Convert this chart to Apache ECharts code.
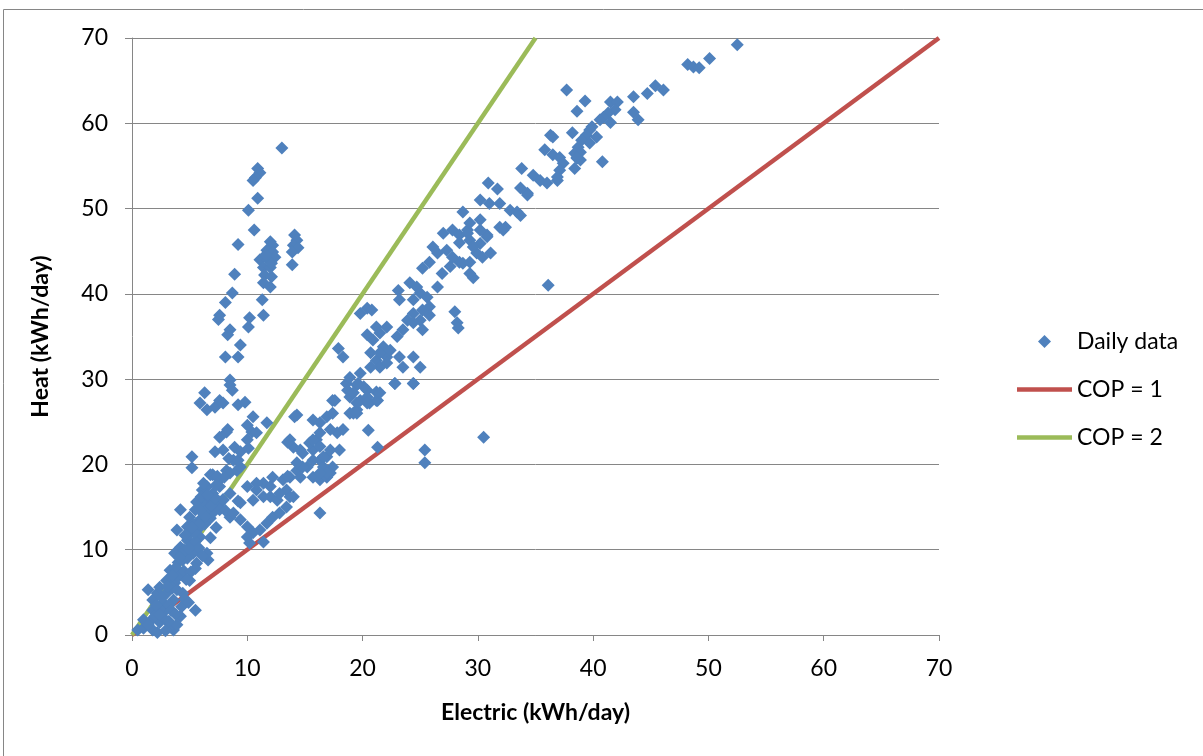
<!DOCTYPE html>
<html>
<head>
<meta charset="utf-8">
<script src="https://cdn.jsdelivr.net/npm/echarts@6/dist/echarts.min.js"></script>
<style>
html,body{margin:0;padding:0;background:#fff;}
#chart{width:1203px;height:756px;}
</style>
</head>
<body>
<div id="chart"></div>
<script>
// Axis ticks
const xTicks = [0, 10, 20, 30, 40, 50, 60, 70];
const yTicks = [0, 10, 20, 30, 40, 50, 60, 70];

// Daily data [electric, heat], grouped by region
const lowBranch = [
[0.5,0.6],[1,0.8],[1.8,0.6],[3.6,0.6],[3.3,0.9],[1,1.8],[1.7,1.8],[2.4,1.5],[1.8,2.9],[2.7,2.6],[5.5,2.9],[1.8,4.1],[2.7,3.8],[3.6,4.1],[4.3,3.3],[1.4,5.3],[2.2,4.9],[3,4.9],[4.4,4.9],[2.4,5.6],[3,6.4],[3.7,6.1],[5,6.4],[3.3,7.6],[4.2,7.3],[3.7,9.6],[4.4,8.8],[5.6,8.4],[6.6,8.8],[4.2,10.3],[5.3,9.6],[6.5,9.6],[4.8,11.1],[5.9,11.5],[3.9,12.3],[4.8,12.7],[5.6,12.3],[5,13.8],[5.9,13.5],[6.8,13.7],[4.2,14.7],[5.5,14.7],[6.2,15.5],[7.5,15],[7.9,15.8],[5.6,15.6],[7,15.6],[7.6,15.6],[7.9,15.9],[6.2,14.3],[7,14.3],[7.6,14.7],[6.5,17.4],[6.1,17],[7,16.6],[6.2,17.8],[7.6,17.4],[7,18.8],[7.6,18.2],[6.8,18.8],[7.4,18.6],[5.2,19.6],[5.2,20.9],[8.2,19.3],[8.5,19],[9.1,19.3],[8.8,20.5],[9.4,19.7],[9.2,20.5],[7.2,21.5],[7.9,21.7],[8.9,22],[9.4,21.5],[10.1,21.9],[7.6,23.2],[8.2,23.8],[8.3,24.1],[10,22.9],[10,24.6],[10.4,23.8],[10.8,23.7],[10.5,25.6],[11.7,24.9],[6.3,28.4],[5.9,27.2],[6.5,26.4],[7.2,26.7],[7.6,27.5],[7.9,27.2],[8.5,29.3],[8.7,28.7],[9.2,27],[9.8,27.3],[8.5,29.9],[8.5,16.6],[8.5,13.8],[9.2,15.7],
[2,2.2],[2.5,3],[3.2,3.5],[3.5,5.5],[4,6.8],[4.5,7.5],[4,8.5],[4.8,9],[5.2,10.5],[4.5,10],[5,11.8],[5.5,11],[6,12.8],[5.3,13],[6.3,13],[6.5,14.8],[6,16.2],[6.8,16],[5.8,10.2],[4.2,2.2],[2.9,1.8],[3.9,1.2],[2.2,0.3],[4.6,4.2],[5.1,7.4],[3.4,2.9],
[3.8,7.9],[4.3,9.4],[4.9,10.2],[5.4,12],[5.8,13],[6.4,13.9],[6.9,15.2],[7.2,16.1],[7.3,17.6],[8,18.5],[8.4,20.7],[6.6,16.4],[5.9,14.6],[5.2,12.6],[4.6,11.7],[4.1,9.1],[3.5,7],[3.1,5.7],[2.6,4.4],[2.1,3.5],[3.9,5.3],[4.7,6.5],[5.5,7.8],[6.1,9.3],[6.8,11.4],[7.3,12.6],[8.1,14.6],[2.9,0.5],[3.8,2.4],[4.9,3.8],[1.4,1.2],[2.4,2.4],[3.2,1.6]
];
const steepBranch = [
[13,57.1],[10.9,54.7],[11.1,54.2],[10.7,53.6],[10.5,53.3],[10.9,51.2],[10.1,49.8],[10.6,47.5],[9.2,45.8],[14.1,46.9],[14.3,46.3],[14,45.7],[14.4,45.4],[13.9,44.9],[13.9,43.4],[12,46.1],[12.2,45.7],[11.7,45.1],[12.2,44.9],[11.1,44],[11.8,44],[12.4,44.3],[11.4,43.1],[12,43.1],[11.5,42.2],[12.1,42],[11.4,41.3],[12,40.8],[8.9,42.3],[8.7,40.1],[8.1,39],[7.6,37.5],[7.5,37],[8.5,35.8],[8.3,35.2],[11.3,39.3],[11.4,37.5],[10.2,37.2],[10.1,36.1],[9.4,34],[9.2,32.6],[8.1,32.6],[11.6,44.6],[12.1,43.6]
];
const lowerMid = [
[10,17.4],[10.8,17],[11.4,17.8],[12.2,18.5],[13.1,18.2],[13.7,18.5],[14,16.2],[8.8,14.3],[9.4,13.5],[10,12.7],[10.5,12],[11.1,12.3],[11.7,13.1],[12.2,13.8],[12.8,14.3],[13.4,15],[10,11.5],[10.2,10.8],[11.4,10.9],[12,16.2],[12.6,15.8],[13.4,17],[12.8,16.6],[13.7,16.2],[11.4,16.2],[10.5,15.8],[9.4,15.5],[10.8,17.8],[12,17.4],[16.3,14.3]
];
const mainBand = [
[14.3,19.3],[15.2,19.7],[15.7,18.5],[16.3,18.2],[16.9,18.5],[17.4,19.7],[14,22],[14.6,21.7],[13.7,22.9],[15.7,25.2],[16.3,24.9],[16.9,25.6],[17.4,26],[15.7,21.7],[16.3,20.5],[16.9,20.9],[16.6,19.7],[17.2,19],[14.3,25.8],[15.4,22.5],[16,22.9],[14.8,19.7],[14.6,18.5],[13.5,18.6],[14.1,25.6],[16.3,23.7],[15.7,22.9],[17.8,23.7],[18.3,24.1],[17.2,24.1],[18,21.7],[17.2,21.7],[16.3,22.1],[16.6,20.9],[15.7,20.5],[14.8,21.3],[13.5,22.6],[14.3,20.2],[16.9,19],[16.3,19],
[18.6,29.5],[19.5,29.3],[20.4,28.7],[21.2,28.5],[18.9,27.9],[19.8,27.5],[20.6,27.2],[21.3,27.5],[17.4,27.5],[19.2,26],[19.5,26.4],[22.8,29.5],[24.4,29.5],[18.7,28.7],[19.2,28.4],[20.1,29.1],[20.4,27.9],[21.2,27.5],[20.4,27.2],[19.5,27.2],[17.6,27.5],[18.9,26],[19.5,26],
[21.2,36.1],[21.5,35.4],[20.4,35.2],[20.9,34.6],[21.8,33.4],[20.7,33.1],[21.2,32.2],[22.1,32.6],[21.5,31.4],[20.7,31.4],[19.8,30.7],[19.6,29.5],[18.9,30.2],[17.9,33.6],[18.3,32.6],[20.4,38.3],[20.8,38.1],[19.8,37.7],
[20.5,24],[21.3,22],[25.4,21.7],[25.4,20.2],[30.5,23.2],[36.1,41],
[23.1,40.4],[24.1,41.3],[24.7,40.8],[25,40.1],[25.6,39.6],[24.4,39.3],[23.2,39.3],[25.8,38.5],[25.2,38.1],[24.4,37.7],[23.9,36.9],[23.5,35.8],[23,35],[25.2,35.8],[25.8,37.5],[25,36.9],[24.4,36.6],[22.1,36.1],[21.8,33.8],[21.5,33.1],[22.4,33.4],[23.2,32.6],[24.4,32.6],[23.5,31.4],[25,31.4],[24.4,29.5],[22.8,29.5],[22.1,31.9],[21.5,28.4],
[28,37.9],[28.2,36.6],[28.3,36],
[27,47.1],[28.4,46.9],[29.1,47.5],[29.3,46.3],[30.2,45.9],[30.8,46.9],[31.1,44.8],[29.9,44.8],[29.3,43.7],[28.4,43.7],[27.6,43.2],[27.8,44.3],[27.3,45.1],[26.1,45.5],[26.5,44.8],[25.8,43.7],[25.2,43],[26.9,42.4],[26.5,40.8],[29.6,41.9],[30.2,48.7],[32.4,47.8],
[28.7,49.6],[29.3,48.3],[27.8,47.5],[29.1,47.1],[30.2,47.5],[30.8,46.7],[31.9,47.8],[32.2,47.5],[28.4,46],[29.6,45.5],[30.4,44.3],[28.7,43.6],[29.3,42.4],
[30.9,53],[31.7,52.3],[30.2,51],[31,50.6],[31.9,50.6],[32.8,49.8],[33.7,52.4],[34.3,51.8],[33.4,49.6],[33.7,49.2],
[33.8,54.7],[34.8,53.9],[35.4,53.3],[36,53],[36.9,53.3],[36.3,58.6],[36.5,58.4],[35.8,56.9],[36.5,56.3],[37.1,56],[37.4,55.3],[37.1,54.5],[36.9,53.7],[38.6,56],[38.9,55.7],[38.4,54.7],[34.3,51.6],
[41.5,62.5],[42.1,62.5],[41.9,61.6],[41.3,61.2],[40.9,60.7],[40.6,60.4],[41.5,60.1],[39.9,59.6],[39.7,59.2],[39.4,58.6],[39,58],[38.7,57.2],[38.4,56.5],[38.2,58.9],[38.9,56.6],[38.6,55.9],[40.8,55.5],[40.3,58.4],[39.7,57.7],
[37.7,63.9],[39.3,62.6],[38.6,61.4],[43.5,63.1],[44.7,63.5],[45.4,64.4],[46.1,63.9],[43.5,61.3],[43.9,60.4],[48.2,66.9],[48.7,66.6],[49.2,66.5],[50.1,67.6],[52.5,69.2]
];
// Reference lines
const cop1Line = [[0,0],[70,70]];
const cop2Line = [[0,0],[35,70]];

const dailyData = lowBranch.concat(steepBranch, lowerMid, mainBand);

const FONT = 'Lato, "Open Sans", sans-serif';
const GRID_GRAY = '#868686';

const chart = echarts.init(document.getElementById('chart'), null, {renderer: 'canvas'});
chart.setOption({
  animation: false,
  backgroundColor: '#ffffff',
  textStyle: {fontFamily: FONT},
  graphic: [{
    type: 'rect', silent: true, z: -10,
    shape: {x: 3.5, y: 9.5, width: 1300, height: 800},
    style: {fill: 'none', stroke: GRID_GRAY, lineWidth: 1}
  }],
  grid: {left: 132, right: 264, top: 38, bottom: 121, containLabel: false},
  legend: {
    orient: 'vertical',
    left: 1012,
    top: 325,
    itemWidth: 55,
    itemHeight: 13,
    itemGap: 25,
    symbolKeepAspect: true,
    selectedMode: false,
    textStyle: {fontFamily: FONT, fontSize: 23, color: '#000'},
    data: [
      {name: 'Daily data', icon: 'path://M6.5,0L13,6.5L6.5,13L0,6.5Z'},
      {name: 'COP = 1', icon: 'path://M0,0L55,0L55,4.5L0,4.5Z'},
      {name: 'COP = 2', icon: 'path://M0,0L55,0L55,4.5L0,4.5Z'}
    ]
  },
  xAxis: {
    type: 'value', min: xTicks[0], max: xTicks[xTicks.length - 1], interval: 10,
    name: 'Electric (kWh/day)', nameLocation: 'middle', nameGap: 66,
    nameTextStyle: {fontFamily: FONT, fontSize: 23, fontWeight: 'bold', color: '#000'},
    axisLine: {show: true, onZero: false, lineStyle: {color: GRID_GRAY, width: 1}},
    axisTick: {show: true, length: 6, lineStyle: {color: GRID_GRAY}},
    axisLabel: {fontFamily: FONT, fontSize: 23, color: '#000', margin: 22},
    splitLine: {show: false}
  },
  yAxis: {
    type: 'value', min: yTicks[0], max: yTicks[yTicks.length - 1], interval: 10,
    name: 'Heat (kWh/day)', nameLocation: 'middle', nameGap: 80, nameRotate: 90,
    nameTextStyle: {fontFamily: FONT, fontSize: 23, fontWeight: 'bold', color: '#000'},
    axisLine: {show: true, onZero: false, lineStyle: {color: GRID_GRAY, width: 1}},
    axisTick: {show: true, length: 7, lineStyle: {color: GRID_GRAY}},
    axisLabel: {fontFamily: FONT, fontSize: 23, color: '#000', margin: 24},
    splitLine: {show: true, lineStyle: {color: GRID_GRAY, width: 1}}
  },
  series: [
    {
      name: 'Daily data', type: 'scatter', z: 3,
      symbol: 'diamond', symbolSize: 13,
      itemStyle: {color: '#4F81BD', opacity: 1},
      data: dailyData
    },
    {
      name: 'COP = 1', type: 'line', z: 2, symbol: 'none',
      itemStyle: {color: '#C0504D'},
      lineStyle: {color: '#C0504D', width: 4.5},
      data: cop1Line
    },
    {
      name: 'COP = 2', type: 'line', z: 2, symbol: 'none',
      itemStyle: {color: '#9BBB59'},
      lineStyle: {color: '#9BBB59', width: 4.5},
      data: cop2Line
    }
  ]
});
</script>
</body>
</html>
